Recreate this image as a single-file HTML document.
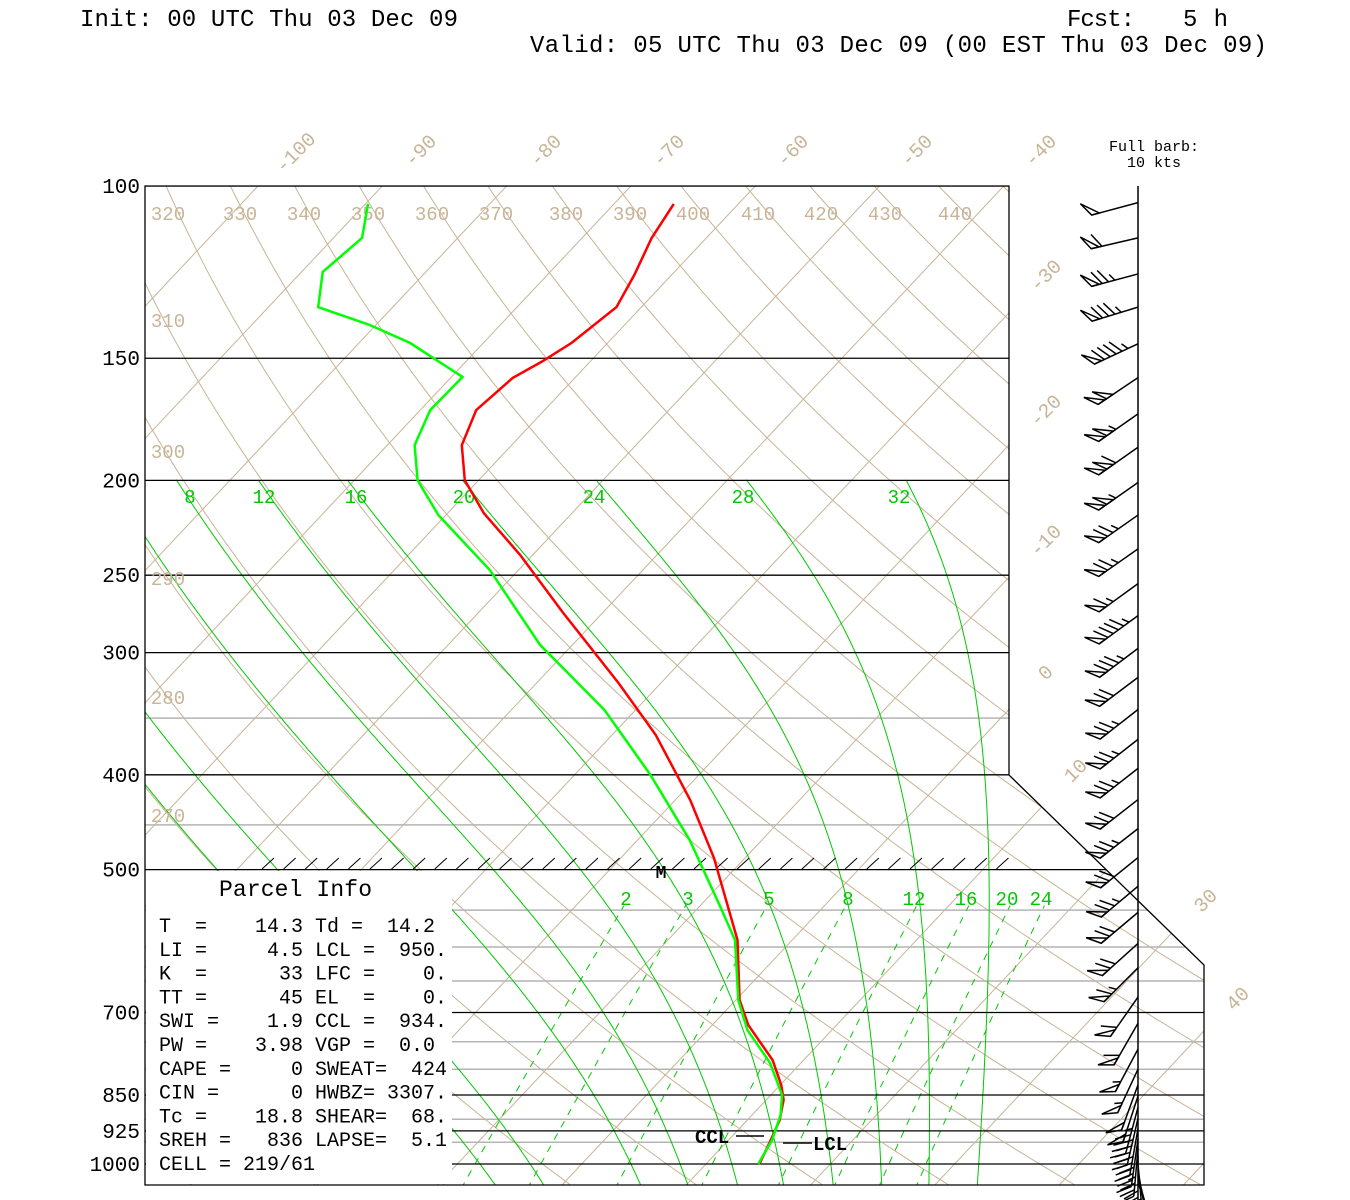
<!DOCTYPE html>
<html><head><meta charset="utf-8"><title>Skew-T sounding</title>
<style>
html,body{margin:0;padding:0;background:#fff;}
svg{display:block;}
text{font-family:"Liberation Mono",monospace;white-space:pre;}
</style></head>
<body>
<svg id="chart" xmlns="http://www.w3.org/2000/svg" width="1350" height="1200" viewBox="0 0 1350 1200">
<defs><clipPath id="plotclip"><polygon points="145,186 1009,186 1009,775 1204,965 1204,1185 145,1185"/></clipPath></defs>
<text x="80" y="26" font-size="24" textLength="378">Init: 00 UTC Thu 03 Dec 09</text>
<text x="1067" y="26" font-size="24" textLength="68">Fcst:</text>
<text x="1183" y="26" font-size="24" textLength="45">5 h</text>
<text x="530" y="52" font-size="24" textLength="737">Valid: 05 UTC Thu 03 Dec 09 (00 EST Thu 03 Dec 09)</text>
<text x="1154" y="151" font-size="15" text-anchor="middle" font-family="Liberation Serif, serif">Full barb:</text>
<text x="1154" y="167" font-size="15" text-anchor="middle" font-family="Liberation Serif, serif">10 kts</text>
<g id="grid" clip-path="url(#plotclip)"></g>
<g id="topG"></g>
</svg>
<script>
// ---- data ----
var presLevelsBlack = [100,150,200,250,300,400,500,700,850,925,1000];
var presLevelsGrey = [350,450,550,600,650,750,800,900,950];
var isotherms = [-170,-160,-150,-140,-130,-120,-110,-100,-90,-80,-70,-60,-50,-40,-30,-20,-10,0,10,20,30,40,50];
var dryThetas = [240,250,260,270,280,290,300,310,320,330,340,350,360,370,380,390,400,410,420,430,440,450,460,470];
var moistStartT = [-5.4,-1.5,6.3,10.1,14.1,17.8,21.8,25.7,29.5,33.4];
var mixRatios = [2,3,5,8,12,16,20,24];
var tempP = [104.3,113,123.3,133,144.7,151.3,157.1,169.5,184.1,200,216,238.4,272.6,322.3,364.1,424.4,486.5,590.2,679.7,721,783,830.6,860,901.6,945,1000];
var tempT = [-65.2,-64.4,-63.0,-62.0,-62.9,-63.9,-65.0,-65.5,-64.0,-61.1,-57.1,-51.0,-43.3,-33.4,-26.5,-18.8,-12.5,-4.4,0.3,2.9,7.5,10.1,11.4,12.6,13.4,14.3];
var dewP = [104.3,113,122.4,133,138.7,144.7,156.8,169.5,184.1,200,217,247,294.6,343.4,400,466.5,543.5,590.2,679.7,729.5,788,850,891,945,1000];
var dewT = [-89.8,-87.7,-88.3,-86.0,-80.5,-75.9,-69.1,-69.2,-67.8,-64.9,-60.6,-52.3,-42.6,-32.5,-23.9,-15.8,-8.5,-4.6,0.2,3.2,7.5,10.9,12.3,13.5,14.2];
var windP = [104,113,123,133,145,157,171,185,201,217,235,255,275,297,318,343,368,394,424,454,486,520,553,595,630,675,718,763,800,830,852,875,898,920,943,964,981,1000,1015,1030,1045];
var windDir = [255,257,255,253,245,236,235,235,235,235,235,234,234,233,233,232,232,232,232,232,231,230,230,228,225,215,210,208,205,200,198,195,193,190,188,185,180,175,170,165,160];
var windSpd = [50,60,75,85,95,100,105,110,105,75,75,65,95,85,70,75,75,75,70,75,70,75,70,70,65,60,60,55,55,50,50,45,45,40,40,35,30,30,25,25,20];
var pLabels = ["100","150","200","250","300","400","500","700","850","925","1000"];
var thetaTopLabels = ["320","330","340","350","360","370","380","390","400","410","420","430","440"];
var thetaTopX = [168,240,304,368,432,496,566,630,693,758,821,885,955];
var thetaLeftLabels = ["310","300","290","280","270"];
var thetaLeftY = [320,451,578,697,815];
var isoLabels = ["-100","-90","-80","-70","-60","-50","-40","-30","-20","-10","0","10","30","40"];
var isoLabX = [295,420,545,668,792,916,1040,1045,1045,1045,1045,1075,1205,1237];
var isoLabY = [152,150,150,150,150,150,150,275,410,540,672,770,900,998];
var moistLabels = ["8","12","16","20","24","28","32"];
var moistLabX = [190,264,356,464,594,743,899];
var mixLabels = ["2","3","5","8","12","16","20","24"];
var mixLabX = [626,688,769,848,914,966,1007,1041];
var parcelLines = ["T  =    14.3 Td =  14.2","LI =     4.5 LCL =  950.","K  =      33 LFC =    0.","TT =      45 EL  =    0.","SWI =    1.9 CCL =  934.","PW =    3.98 VGP =  0.0","CAPE =     0 SWEAT=  424","CIN =      0 HWBZ= 3307.","Tc =    18.8 SHEAR=  68.","SREH =   836 LAPSE=  5.1","CELL = 219/61"];

// ---- axes ----
function yP(p){return 186+978*Math.log10(p/100);}
function xT(T,p){return 258+(T+100)*12.43-0.94*(yP(p)-186);}
var NS="http://www.w3.org/2000/svg";
var gridG=document.getElementById('grid'), topG=document.getElementById('topG'), svgEl=document.getElementById('chart');
function mk(tag,attrs,parent){var e=document.createElementNS(NS,tag);for(var k in attrs)e.setAttribute(k,attrs[k]);(parent||gridG).appendChild(e);return e;}
var TAN="#c8b496", GRN="#00c800";
function pts(arr){return arr.map(function(a){return a[0].toFixed(1)+","+a[1].toFixed(1);}).join(" ");}

isotherms.forEach(function(T){
  var e=mk('line',{x1:xT(T,1060),y1:yP(1060),x2:xT(T,95),y2:yP(95),stroke:TAN,'stroke-width':1});
  
  
});
dryThetas.forEach(function(th){
  var a=[];for(var p=1060;p>=95;p*=0.97){var T=th*Math.pow(p/1000,0.2857)-273.15;a.push([xT(T,p),yP(p)]);}
  var e=mk('polyline',{points:pts(a),fill:'none',stroke:TAN,'stroke-width':1});
  
  
});
presLevelsGrey.forEach(function(p){
  var e=mk('line',{x1:145,x2:1204,y1:yP(p),y2:yP(p),stroke:'#b4b4b4','stroke-width':1.5});
  
  
});
function tdFromW(w,p){var e=w*p/(622+w);var l=Math.log(e/6.112);return 243.5*l/(17.67-l);}
mixRatios.forEach(function(w){
  var a=[];for(var p=1060;p>=538;p*=0.98){a.push([xT(tdFromW(w,p),p),yP(p)]);}
  var e=mk('polyline',{points:pts(a),fill:'none',stroke:GRN,'stroke-width':1,'stroke-dasharray':'7,7'});
  
  
});
function es(T){return 6.112*Math.exp(17.67*T/(T+243.5));}
moistStartT.forEach(function(T0,i){
  var T=T0+273.15,p=1050,a=[[xT(T0,p),yP(p)]];
  while(p>200){var dl=-0.005;var Tc=T-273.15;var rs=0.622*es(Tc)/(p-es(Tc));
    var g=(287*T+2.5e6*rs)/(1004+2.5e6*2.5e6*rs*0.622/(287*T*T));
    T+=g*dl;p*=Math.exp(dl);a.push([xT(T-273.15,p),yP(p)]);}
  var e=mk('polyline',{points:pts(a),fill:'none',stroke:GRN,'stroke-width':1});
  
  
});
presLevelsBlack.forEach(function(p){
  var e=mk('line',{x1:145,x2:1204,y1:yP(p),y2:yP(p),stroke:'#000','stroke-width':1.3});
  
  
});
var fr=mk('polygon',{points:"145,186 1009,186 1009,775 1204,965 1204,1185 145,1185",fill:'none',stroke:'#000','stroke-width':1.3},topG);


var box=mk('rect',{x:146,y:871,width:306,height:313,fill:'#fff'},topG);


for(var hx=262;hx<1000;hx+=21.6){
  var h=mk('line',{x1:hx,y1:869,x2:hx+12,y2:858,stroke:'#000','stroke-width':1},topG);
  
  
}
function txt(s,x,y,attrs,name){var e=mk('text',Object.assign({x:x,y:y},attrs),topG);e.textContent=s;
  
  return e;}
pLabels.forEach(function(s,i){txt(s,140,yP(presLevelsBlack[i])+7,{'font-size':21,'text-anchor':'end'},'pressure-label-'+s);});
thetaTopLabels.forEach(function(s,i){txt(s,thetaTopX[i],220,{'font-size':19,'text-anchor':'middle',fill:TAN},'theta-label-'+s);});
thetaLeftLabels.forEach(function(s,i){txt(s,168,thetaLeftY[i]+7,{'font-size':19,'text-anchor':'middle',fill:TAN},'theta-label-'+s);});
isoLabels.forEach(function(s,i){txt(s,isoLabX[i],isoLabY[i]+7,{'font-size':20,'text-anchor':'middle',fill:TAN,transform:'rotate(-45 '+isoLabX[i]+' '+isoLabY[i]+')'},'isotherm-label-'+s);});
moistLabels.forEach(function(s,i){txt(s,moistLabX[i],503,{'font-size':19,'text-anchor':'middle',fill:GRN},'moist-adiabat-label-'+s);});
mixLabels.forEach(function(s,i){txt(s,mixLabX[i],905,{'font-size':19,'text-anchor':'middle',fill:GRN},'mixing-ratio-label-'+s);});
txt("Parcel Info",219,896,{'font-size':23,textLength:153},'parcel-info-title');
parcelLines.forEach(function(s,i){txt(s,159,932+i*23.8,{'font-size':20},'parcel-info-row-'+i);});
txt("M",661,878,{'font-size':18,'font-weight':'bold','text-anchor':'middle','font-family':'Liberation Serif, serif'},'max-wind-marker');
txt("CCL",695,1143,{'font-size':19,'font-weight':'bold','font-family':'Liberation Serif, serif'},'ccl-label');
var c1=mk('line',{x1:736,x2:764,y1:1136,y2:1136,stroke:'#000','stroke-width':1.5},topG);


var c2=mk('line',{x1:783,x2:812,y1:1143,y2:1143,stroke:'#000','stroke-width':1.5},topG);


txt("LCL",813,1150,{'font-size':19,'font-weight':'bold','font-family':'Liberation Serif, serif'},'lcl-label');
var tl=mk('polyline',{points:pts(tempP.map(function(p,i){return [xT(tempT[i],p),yP(p)];})),fill:'none',stroke:'#ff0000','stroke-width':2.5},topG);


var dl=mk('polyline',{points:pts(dewP.map(function(p,i){return [xT(dewT[i],p),yP(p)];})),fill:'none',stroke:'#00ff00','stroke-width':2.5},topG);


var staff=mk('line',{x1:1138,x2:1138,y1:186,y2:1164,stroke:'#000','stroke-width':1.5},topG);


windP.forEach(function(p,i){
  var d=windDir[i]*Math.PI/180,sx=1138,sy=yP(p),L=48;
  var ux=Math.sin(d),uy=-Math.cos(d);
  var c=Math.cos(Math.PI/3),s=Math.sin(Math.PI/3);
  var fx=ux*c-uy*s,fy=ux*s+uy*c;
  var g=mk('g',{stroke:'#000','stroke-width':1.5,fill:'none'},topG);
  
  
  var tx=sx+ux*L,ty=sy+uy*L;
  mk('line',{x1:sx,y1:sy,x2:tx,y2:ty},g);
  var v=Math.round(windSpd[i]/5)*5,pos=0,fl=16;
  while(v>=50){var ax=tx-ux*pos,ay=ty-uy*pos;
    mk('polygon',{points:ax+","+ay+" "+(ax+fx*fl)+","+(ay+fy*fl)+" "+(ax-ux*8)+","+(ay-uy*8)},g);pos+=10;v-=50;}
  if(pos>0)pos+=1;
  while(v>=10){var ax=tx-ux*pos,ay=ty-uy*pos;mk('line',{x1:ax,y1:ay,x2:ax+fx*fl,y2:ay+fy*fl},g);pos+=6.5;v-=10;}
  if(v>=5){if(pos==0)pos=6.5;var ax=tx-ux*pos,ay=ty-uy*pos;mk('line',{x1:ax,y1:ay,x2:ax+fx*fl/2,y2:ay+fy*fl/2},g);}
});
</script>
</body></html>
